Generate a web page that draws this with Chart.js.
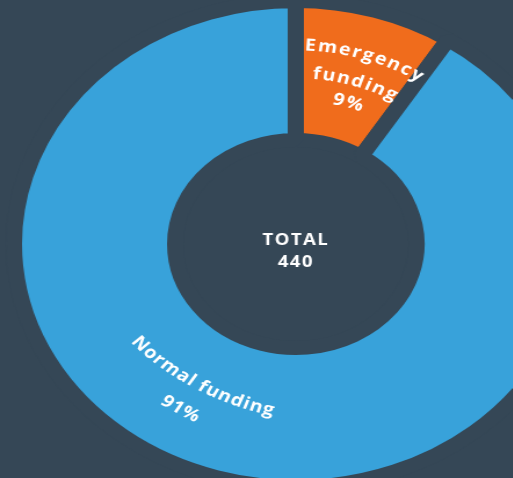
<!DOCTYPE html>
<html>
<head>
<meta charset="utf-8">
<script src="https://cdn.jsdelivr.net/npm/chart.js@4.4.0/dist/chart.umd.min.js"></script>
<style>
html, body { margin: 0; padding: 0; background: #354756; overflow: hidden; }
#wrap { width: 513px; height: 478px; position: relative; overflow: hidden; }
/* the source picture is stretched sideways, so the canvas is too */
#chart { position: absolute; left: 0; top: 0; transform: scaleX(1.16); transform-origin: 0 0; }
</style>
</head>
<body>
<div id="wrap"><canvas id="chart" width="442" height="478"></canvas></div>
<script>
const categories = ['Emergency funding', 'Normal funding'];
const values = [40, 400];
const colors = ['#f06c1c', '#38a2da'];
const labelLines = [['Emergency', 'funding'], ['Normal funding']];
const centerTitle = 'TOTAL';

const bgColor = '#354756';
const total = values.reduce((a, b) => a + b, 0);

// where each label sits: fraction along the arc, fractions across the ring,
// text faces out or in, extra letter gap, how much flatter than the ring the text bends
const labelPlace = [
    { along: 0.54, rings: [0.68, 0.48, 0.32], outward: true, spacing: 1.7, bend: 1 },
    { along: 0.545, rings: [0.43, 0.64], outward: false, spacing: 0.6, bend: 1.4 }
];

function drawCurved(ctx, text, cx, cy, r, mid, outward, spacing, bend) {
    // bend > 1 draws the text on a wider circle that touches the ring line at mid
    const rc = r * bend;
    const ox = cx + (r - rc) * Math.cos(mid);
    const oy = cy + (r - rc) * Math.sin(mid);
    const chars = [...text];
    const widths = chars.map(c => ctx.measureText(c).width);
    const full = widths.reduce((a, b) => a + b, 0) + spacing * (chars.length - 1);
    const dir = outward ? 1 : -1;
    let a = mid - dir * full / rc / 2;
    chars.forEach((c, i) => {
        const w = widths[i];
        const ca = a + dir * (w / 2) / rc;
        ctx.save();
        ctx.translate(ox + rc * Math.cos(ca), oy + rc * Math.sin(ca));
        ctx.rotate(ca + dir * Math.PI / 2);
        ctx.fillText(c, 0, 0);
        ctx.restore();
        a += dir * (w + spacing) / rc;
    });
}

const arcLabels = {
    id: 'arcLabels',
    afterDatasetsDraw(chart) {
        const ctx = chart.ctx;
        const meta = chart.getDatasetMeta(0);
        ctx.save();
        ctx.fillStyle = '#ffffff';
        ctx.font = 'bold 17px "Open Sans"';
        ctx.textAlign = 'center';
        ctx.textBaseline = 'middle';
        meta.data.forEach((arc, i) => {
            const p = arc.getProps(['x', 'y', 'startAngle', 'endAngle', 'innerRadius', 'outerRadius']);
            const place = labelPlace[i];
            const mid = p.startAngle + place.along * (p.endAngle - p.startAngle);
            const lines = labelLines[i].concat([Math.round(values[i] / total * 100) + '%']);
            lines.forEach((line, k) => {
                const r = p.innerRadius + place.rings[k] * (p.outerRadius - p.innerRadius);
                drawCurved(ctx, line, p.x, p.y, r, mid, place.outward, place.spacing, place.bend);
            });
        });

        // total in the hole
        const first = meta.data[0];
        ctx.font = 'bold 16px "Open Sans"';
        ctx.letterSpacing = '1.2px';
        ctx.fillText(centerTitle, first.x, first.y - 4);
        ctx.fillText(String(total), first.x, first.y + 18);
        ctx.restore();
    }
};

new Chart(document.getElementById('chart'), {
    type: 'doughnut',
    data: {
        labels: categories,
        datasets: [{
            data: values,
            backgroundColor: colors,
            borderColor: bgColor,
            borderWidth: 14,
            clip: false
        }]
    },
    options: {
        responsive: false,
        animation: false,
        radius: 243,
        cutout: '42.8%',
        layout: { padding: { left: 68, top: 10 } },
        plugins: {
            legend: { display: false },
            tooltip: { enabled: false }
        }
    },
    plugins: [arcLabels]
});
</script>
</body>
</html>
